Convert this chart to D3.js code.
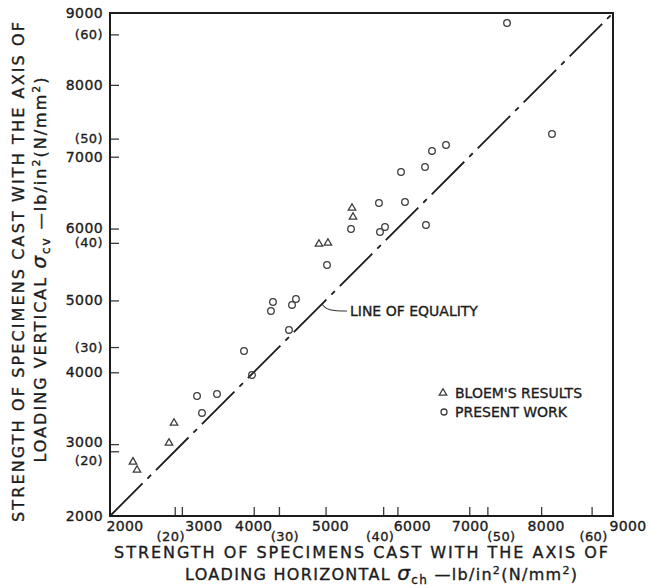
<!DOCTYPE html>
<html>
<head>
<meta charset="utf-8">
<title>Strength of specimens</title>
<script src="https://d3js.org/d3.v7.min.js"></script>
<style>
 body { margin: 0; background: #fff; }
 svg { display: block; font-family: "DejaVu Sans", sans-serif; }
 .frame { fill: none; stroke: #1c1c1c; stroke-width: 2; }
 .tick line { stroke: #3a3a3a; stroke-width: 1.3; }
 .lab { fill: #1c1c1c; stroke: #1c1c1c; stroke-width: 0.35; font-size: 14px; letter-spacing: 0.4px; }
 .lab.nmm { font-size: 13px; }
 .title { fill: #1c1c1c; stroke: #1c1c1c; stroke-width: 0.35; font-size: 16px; }
 .equal { stroke: #1c1c1c; stroke-width: 1.8; fill: none; stroke-dasharray: 46,7,5,7; }
 .mark { fill: none; stroke: #3c3c3c; stroke-width: 1.3; }
 .note { fill: #1c1c1c; stroke: #1c1c1c; stroke-width: 0.35; font-size: 14px; }
 .leader { fill: none; stroke: #333; stroke-width: 1.1; }
</style>
</head>
<body>
<script>
 var width = 651;
 var height = 588;

 // tick values, lb/in2 and N/mm2
 var psiTicks = [2000, 3000, 4000, 5000, 6000, 7000, 8000, 9000];
 var nmmTicks = [20, 30, 40, 50, 60];
 var PSI = 145.038;

 // [horizontal, vertical] strength, lb/in2
 var bloem = [[2320, 2752], [2376, 2640], [2821, 3016], [2891, 3294],
              [4908, 5785], [5033, 5799], [5368, 6286], [5382, 6161]];
 var present = [[3211, 3670], [3280, 3434], [3489, 3698], [3865, 4296],
                [3976, 3962], [4240, 4853], [4268, 4978], [4491, 4589],
                [4533, 4937], [4588, 5020], [5020, 5493], [5354, 5994],
                [5743, 6356], [5757, 5952], [5827, 6022], [6050, 6787],
                [6105, 6370], [6384, 6857], [6397, 6050], [6481, 7080],
                [6676, 7163], [7525, 8861], [8151, 7316]];

 var x = d3.scaleLinear().domain([2000, 9000]).range([110, 613]);
 var y = d3.scaleLinear().domain([2000, 9000]).range([516, 13]);

 var svg = d3.select('body').append('svg')
             .attr('width', width)
             .attr('height', height);

 var inner = psiTicks.slice(1, -1).concat(nmmTicks.map(d => d * PSI));

 svg.append('g')
    .attr('transform', 'translate(0,' + y(2000) + ')')
    .call(d3.axisBottom(x).tickValues(inner).tickSize(-9).tickFormat(''))
    .call(g => g.select('.domain').remove());

 svg.append('g')
    .attr('transform', 'translate(' + x(2000) + ',0)')
    .call(d3.axisLeft(y).tickValues(inner).tickSize(-9).tickFormat(''))
    .call(g => g.select('.domain').remove());

 svg.append('rect')
    .attr('class', 'frame')
    .attr('x', x(2000)).attr('y', y(9000))
    .attr('width', x(9000) - x(2000))
    .attr('height', y(2000) - y(9000));

 // label nudges so paired labels don't collide
 var xNudge = {2000: 15, 3000: 22, 4000: 0, 5000: 5, 6000: 15, 7000: 1, 8000: 5, 9000: 15};
 var xNudgeN = {20: -4, 30: 6, 40: -3, 50: 14, 60: 2};
 var yNudge = {3000: -2};
 var yNudgeN = {20: 9};

 svg.append('g').selectAll('text')
    .data(psiTicks).enter().append('text')
    .attr('class', 'lab')
    .attr('x', d => x(d) + xNudge[d])
    .attr('y', y(2000) + 10)
    .attr('dy', '0.35em')
    .attr('text-anchor', 'middle')
    .text(d => d);

 svg.append('g').selectAll('text')
    .data(nmmTicks).enter().append('text')
    .attr('class', 'lab nmm')
    .attr('x', d => x(d * PSI) + xNudgeN[d])
    .attr('y', y(2000) + 20)
    .attr('dy', '0.35em')
    .attr('text-anchor', 'middle')
    .text(d => '(' + d + ')');

 svg.append('g').selectAll('text')
    .data(psiTicks).enter().append('text')
    .attr('class', 'lab')
    .attr('x', x(2000) - 7)
    .attr('y', d => y(d) + (yNudge[d] || 0))
    .attr('dy', '0.35em')
    .attr('text-anchor', 'end')
    .text(d => d);

 svg.append('g').selectAll('text')
    .data(nmmTicks).enter().append('text')
    .attr('class', 'lab nmm')
    .attr('x', x(2000) - 7)
    .attr('y', d => y(d * PSI) + (yNudgeN[d] || 0))
    .attr('dy', '0.35em')
    .attr('text-anchor', 'end')
    .text(d => '(' + d + ')');

 // line of equality
 svg.append('line')
    .attr('class', 'equal')
    .attr('x1', x(2000)).attr('y1', y(2000))
    .attr('x2', x(9000)).attr('y2', y(9000));

 var lx = x(4950), ly = y(4950);
 svg.append('path')
    .attr('class', 'leader')
    .attr('d', 'M' + lx + ',' + ly + ' C' + (lx + 4) + ',' + (ly + 6) + ' ' + (lx + 9) + ',' + (ly + 7) + ' ' + (lx + 25) + ',' + (ly + 7));
 svg.append('text')
    .attr('class', 'note')
    .attr('x', lx + 28).attr('y', ly + 7)
    .attr('dy', '0.35em')
    .text('LINE OF EQUALITY');

 // data marks
 var tri = d3.symbol(d3.symbolTriangle).size(24);
 svg.append('g').selectAll('path')
    .data(bloem).enter().append('path')
    .attr('class', 'mark')
    .attr('d', tri)
    .attr('transform', d => 'translate(' + x(d[0]) + ',' + y(d[1]) + ')');

 svg.append('g').selectAll('circle')
    .data(present).enter().append('circle')
    .attr('class', 'mark')
    .attr('r', 3.3)
    .attr('cx', d => x(d[0]))
    .attr('cy', d => y(d[1]));

 // legend
 var leg = svg.append('g').attr('transform', 'translate(443,393)');
 leg.append('path').attr('class', 'mark').attr('d', tri);
 leg.append('circle').attr('class', 'mark').attr('r', 3).attr('cx', 1).attr('cy', 19);
 leg.append('text').attr('class', 'note').attr('x', 12).attr('dy', '0.35em').text("BLOEM'S RESULTS");
 leg.append('text').attr('class', 'note').attr('x', 12).attr('y', 19).attr('dy', '0.35em').text('PRESENT WORK');

 // axis titles
 function unitLine(sel, pre, sym, sub) {
     sel.append('tspan').text(pre);
     sel.append('tspan').attr('font-size', 20).attr('font-style', 'italic').text('\u03c3');
     sel.append('tspan').attr('font-size', 12).attr('dy', 4).text(sub);
     sel.append('tspan').attr('dy', -4).text(' \u2014lb/in');
     sel.append('tspan').attr('font-size', 11).attr('dy', -6).text('2');
     sel.append('tspan').attr('dy', 6).text('(N/mm');
     sel.append('tspan').attr('font-size', 11).attr('dy', -6).text('2');
     sel.append('tspan').attr('dy', 6).text(')');
 }

 svg.append('text')
    .attr('class', 'title')
    .attr('x', 361).attr('y', 552)
    .attr('dy', '0.35em')
    .attr('text-anchor', 'middle')
    .attr('textLength', 494).attr('lengthAdjust', 'spacing')
    .text('STRENGTH OF SPECIMENS CAST WITH THE AXIS OF');

 svg.append('text')
    .attr('class', 'title')
    .attr('x', 381).attr('y', 574)
    .attr('dy', '0.35em')
    .attr('text-anchor', 'middle')
    .attr('textLength', 392).attr('lengthAdjust', 'spacing')
    .call(unitLine, 'LOADING  HORIZONTAL  ', '\u03c3', 'ch');

 svg.append('text')
    .attr('class', 'title')
    .attr('transform', 'translate(18,272) rotate(-90)')
    .attr('dy', '0.35em')
    .attr('text-anchor', 'middle')
    .attr('textLength', 500).attr('lengthAdjust', 'spacing')
    .text('STRENGTH OF SPECIMENS CAST WITH THE AXIS OF');

 svg.append('text')
    .attr('class', 'title')
    .attr('transform', 'translate(40,270) rotate(-90)')
    .attr('dy', '0.35em')
    .attr('text-anchor', 'middle')
    .attr('textLength', 385).attr('lengthAdjust', 'spacing')
    .call(unitLine, 'LOADING  VERTICAL  ', '\u03c3', 'cv');
</script>
</body>
</html>
